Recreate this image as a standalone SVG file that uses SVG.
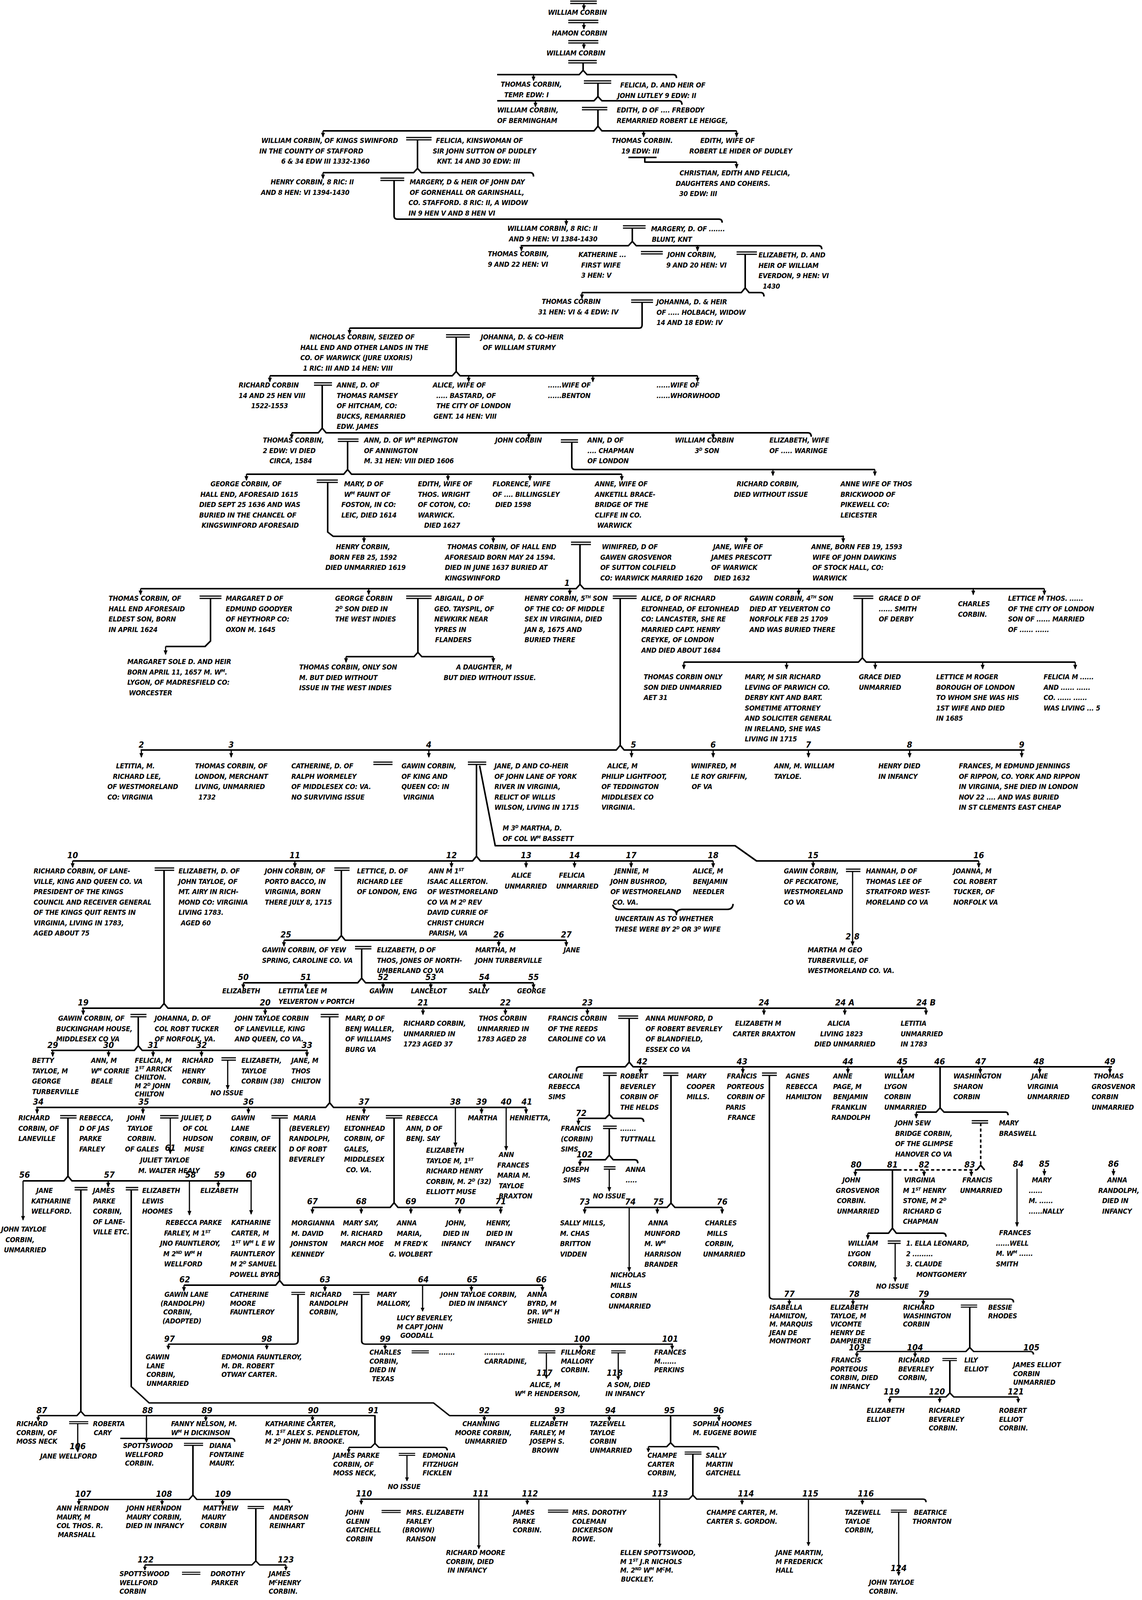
<svg xmlns="http://www.w3.org/2000/svg" width="2924" height="4225" viewBox="0 0 2924 4225">
<defs>
<marker id="ah" viewBox="0 0 12 10" refX="10" refY="5" markerWidth="12" markerHeight="10" markerUnits="userSpaceOnUse" orient="auto"><path d="M0 0 L12 5 L0 10 z" fill="#000"/></marker>
<style>
text{font-family:"Liberation Sans Narrow","DejaVu Sans Condensed","Liberation Sans",sans-serif;font-weight:bold;font-style:italic;font-size:18px;letter-spacing:-0.3px;fill:#000}
.n{font-size:22px;text-anchor:middle;letter-spacing:0}
.s{font-size:11px;baseline-shift:super}
.l{fill:none;stroke:#000;stroke-width:4;stroke-linejoin:round}
.a{fill:none;stroke:#000;stroke-width:3;marker-end:url(#ah)}
.m{fill:none;stroke:#000;stroke-width:3}
.d{stroke-dasharray:8 6}
</style>
</defs>
<rect width="2924" height="4225" fill="#fff"/>
<g id="connectors">
<path class="m" d="M1460 3H1528M1460 9H1528"/><path class="a" d="M1495 9V24"/>
<path class="m" d="M1455 52H1532M1455 58H1532"/><path class="a" d="M1495 58V74"/>
<path class="m" d="M1455 104H1532M1455 110H1532"/><path class="a" d="M1495 110V124"/>
<path class="m" d="M1455 155H1528M1455 161H1528"/>
<path class="l" d="M1493 161V180M1273 191H1483L1493 180L1503 191H1724Q1732 191 1732 200"/>
<path class="a" d="M1366 191V206"/>
<path class="m" d="M1495 207H1565M1495 213H1565"/>
<path class="l" d="M1531 213V247M1273 258H1521L1531 247L1541 258H1738Q1746 258 1746 268"/>
<path class="a" d="M1371 258V273"/>
<path class="m" d="M1490 275H1555M1490 281H1555"/>
<path class="l" d="M1531 281V323M827 335H1521L1531 323L1541 335H1886"/>
<path class="a" d="M827 335V350"/><path class="a" d="M1648 335V350"/><path class="a" d="M1886 335V350"/>
<path class="m" d="M1040 352H1105M1040 358H1105"/>
<path class="l" d="M1069 358V431M827 442H1059L1069 431L1079 442H1358Q1366 442 1366 452"/>
<path class="a" d="M827 442V457"/>
<path class="l" d="M1609 403H1681M1651 403V415H1886"/><path class="a" d="M1886 415V430"/>
<path class="m" d="M974 456H1035M974 462H1035"/>
<path class="l" d="M1009 462V553Q1009 561 1018 561H1841Q1849 561 1849 570"/>
<path class="a" d="M1450 561V576"/>
<path class="m" d="M1595 578H1653M1595 584H1653"/>
<path class="l" d="M1619 584V618M1333 629H1609L1619 618L1629 629H2096Q2104 629 2104 638"/>
<path class="a" d="M1335 629V642"/><path class="a" d="M1786 629V642"/>
<path class="m" d="M1641 644H1697M1641 650H1697"/>
<path class="m" d="M1886 645H1938M1886 651H1938"/>
<path class="l" d="M1908 651V737M1490 749H1898L1908 737L1918 749H1948Q1956 749 1956 759"/>
<path class="a" d="M1490 749V764"/>
<path class="m" d="M1616 768H1672M1616 774H1672"/>
<path class="l" d="M1644 774V832Q1644 840 1636 840H895"/><path class="a" d="M895 840V855"/>
<path class="m" d="M1142 857H1203M1142 863H1203"/>
<path class="l" d="M1168 863V951M691 962H1158L1168 951L1178 962H1786"/>
<path class="a" d="M691 962V977"/><path class="a" d="M1200 962V977"/><path class="a" d="M1518 962V977"/><path class="a" d="M1786 962V977"/>
<path class="m" d="M804 980H850M804 986H850"/>
<path class="l" d="M825 986V1096M747 1108H815L825 1096L835 1108H2069Q2077 1108 2077 1118"/>
<path class="a" d="M747 1108V1122"/><path class="a" d="M1354 1108V1122"/><path class="a" d="M1826 1108V1122"/>
<path class="m" d="M865 1124H918M865 1130H918"/>
<path class="l" d="M890 1130V1202M631 1214H880L890 1202L900 1214H1592"/>
<path class="a" d="M631 1214V1229"/><path class="a" d="M1147 1214V1229"/><path class="a" d="M1357 1214V1229"/><path class="a" d="M1592 1214V1229"/>
<path class="m" d="M1436 1126H1480M1436 1132H1480"/>
<path class="l" d="M1464 1132V1194Q1464 1202 1473 1202H2240"/>
<path class="a" d="M1979 1202V1217"/><path class="a" d="M2240 1202V1217"/>
<path class="m" d="M811 1229H865M811 1235H865"/>
<path class="l" d="M839 1235V1362L853 1373H2161"/>
<path class="a" d="M932 1373V1388"/><path class="a" d="M1263 1373V1388"/><path class="a" d="M1910 1373V1388"/><path class="a" d="M2159 1373V1388"/>
<path class="m" d="M1462 1388H1513M1462 1394H1513"/>
<path class="l" d="M1485 1394V1496M360 1507H1475L1485 1496L1495 1507H2674"/>
<path class="a" d="M360 1507V1522"/><path class="a" d="M944 1507V1522"/><path class="a" d="M1459 1507V1522"/><path class="a" d="M2045 1507V1522"/><path class="a" d="M2492 1507V1522"/><path class="a" d="M2674 1507V1522"/>
<path class="m" d="M511 1526H567M511 1532H567"/>
<path class="l" d="M539 1532V1641L525 1655H424"/><path class="a" d="M424 1655V1675"/>
<path class="m" d="M1040 1526H1105M1040 1532H1105"/>
<path class="l" d="M1070 1532V1670M886 1681H1060L1070 1670L1080 1681H1263"/>
<path class="a" d="M886 1681V1695"/><path class="a" d="M1263 1681V1695"/>
<path class="m" d="M1569 1526H1630M1569 1532H1630"/>
<path class="l" d="M1588 1532V1908M360 1920H1578L1588 1908L1598 1920H2623"/>
<path class="a" d="M362 1920V1938"/><path class="a" d="M592 1920V1938"/><path class="a" d="M1098 1920V1938"/><path class="a" d="M1617 1920V1938"/><path class="a" d="M1826 1920V1938"/><path class="a" d="M2070 1920V1938"/><path class="a" d="M2329 1920V1938"/><path class="a" d="M2616 1920V1938"/>
<path class="m" d="M2185 1526H2236M2185 1532H2236"/>
<path class="l" d="M2208 1532V1684M1751 1695H2198L2208 1684L2218 1695H2753"/>
<path class="a" d="M1751 1695V1712"/><path class="a" d="M2014 1695V1712"/><path class="a" d="M2241 1695V1712"/><path class="a" d="M2516 1695V1712"/><path class="a" d="M2753 1695V1712"/>
<path class="m" d="M956 1951H1005M956 1957H1005"/>
<path class="m" d="M1198 1951H1245M1198 1957H1245"/>
<path class="l" d="M1220 1957V2192M186 2204H1210L1220 2192L1230 2204H1826"/>
<path class="a" d="M186 2204V2220"/><path class="a" d="M755 2204V2220"/><path class="a" d="M1156 2204V2220"/><path class="a" d="M1347 2204V2220"/><path class="a" d="M1471 2204V2220"/><path class="a" d="M1616 2204V2220"/><path class="a" d="M1826 2204V2220"/>
<path class="l" d="M1228 1960L1268 2165H1882L1937 2204H2506"/>
<path class="a" d="M2082 2204V2220"/><path class="a" d="M2506 2204V2220"/>
<path class="m" d="M396 2222H446M396 2228H446"/>
<path class="l" d="M420 2228V2569M210 2581H410L420 2569L430 2581H2371"/>
<path class="a" d="M213 2581V2597"/><path class="a" d="M679 2581V2597"/><path class="a" d="M1083 2581V2597"/><path class="a" d="M1294 2581V2597"/><path class="a" d="M1504 2581V2597"/><path class="a" d="M1956 2581V2597"/><path class="a" d="M2163 2581V2597"/><path class="a" d="M2371 2581V2597"/>
<path class="m" d="M856 2222H895M856 2228H895"/>
<path class="l" d="M874 2228V2395M727 2407H864L874 2395L884 2407H1450"/>
<path class="a" d="M727 2407V2422"/><path class="a" d="M1277 2407V2422"/><path class="a" d="M1450 2407V2422"/>
<path class="m" d="M2166 2225H2203M2166 2231H2203"/><path class="a" d="M2183 2231V2420"/>
<path class="l" d="M1569 2316Q1571 2328 1588 2328H1718Q1732 2329 1732 2341Q1732 2329 1746 2328H1862Q1876 2328 1877 2314"/>
<path class="m" d="M909 2423H951M909 2429H951"/>
<path class="l" d="M926 2429V2504M623 2516H916L926 2504L936 2516H1366"/>
<path class="a" d="M623 2516V2530"/><path class="a" d="M783 2516V2530"/><path class="a" d="M981 2516V2530"/><path class="a" d="M1103 2516V2530"/><path class="a" d="M1240 2516V2530"/><path class="a" d="M1366 2516V2530"/>
<path class="m" d="M334 2597H375M334 2603H375"/>
<path class="l" d="M354 2603V2677M131 2689H344L354 2677L364 2689H788"/>
<path class="a" d="M135 2689V2704"/><path class="a" d="M278 2689V2704"/><path class="a" d="M392 2689V2704"/><path class="a" d="M516 2689V2704"/><path class="a" d="M786 2689V2704"/>
<path class="m" d="M821 2597H867M821 2603H867"/>
<path class="l" d="M844 2603V2823M93 2835H834L844 2823L854 2835H1347"/>
<path class="a" d="M95 2835V2850"/><path class="a" d="M366 2835V2850"/><path class="a" d="M636 2835V2850"/><path class="a" d="M932 2835V2850"/><path class="a" d="M1233 2835V2850"/><path class="a" d="M1347 2835V2850"/><path class="a" d="M1166 2835V2935"/><path class="a" d="M1296 2835V2944"/>
<path class="m" d="M1583 2601H1634M1583 2607H1634"/>
<path class="l" d="M1611 2607V2719M1476 2743V2739Q1476 2731 1484 2731H1601L1611 2719L1621 2731H2847"/>
<path class="a" d="M1640 2731V2747"/><path class="a" d="M1902 2731V2747"/><path class="a" d="M2171 2731V2747"/><path class="a" d="M2309 2731V2747"/><path class="a" d="M2510 2731V2747"/><path class="a" d="M2662 2731V2747"/><path class="a" d="M2842 2731V2747"/>
<path class="l" d="M2407 2731V2836M2346 2847H2397L2407 2836L2417 2847H2575Q2581 2847 2581 2855"/>
<path class="a" d="M2346 2847V2862"/>
<path class="m" d="M567 2708H604M567 2714H604"/><path class="a" d="M583 2714V2788"/>
<path class="m" d="M1544 2747H1579M1544 2753H1579"/>
<path class="l" d="M1560 2753V2853M1481 2863H1550L1560 2853L1570 2863H1640Q1648 2863 1648 2872"/>
<path class="a" d="M1481 2863V2879"/>
<path class="m" d="M1698 2747H1737M1698 2753H1737"/>
<path class="l" d="M1718 2753V3080M1497 3091H1708L1718 3080L1728 3091H1849"/>
<path class="a" d="M1497 3091V3106"/><path class="a" d="M1683 3091V3106"/><path class="a" d="M1849 3091V3106"/><path class="a" d="M1611 3091V3254"/>
<path class="m" d="M1951 2747H1989M1951 2753H1989"/>
<path class="l" d="M1970 2753V3301"/>
<path class="m" d="M1544 2883H1579M1544 2889H1579"/>
<path class="l" d="M1560 2889V2957M1485 2969H1550L1560 2957L1570 2969H1625Q1633 2969 1633 2978"/>
<path class="a" d="M1485 2969V2984"/>
<path class="m" d="M1546 2987H1576M1546 2993H1576"/><path class="a" d="M1560 2993V3049"/>
<path class="m" d="M2488 2869H2530M2488 2875H2530"/>
<path class="l d" d="M2511 2875V2983"/>
<path class="l" d="M2189 2995H2300"/><path class="l d" d="M2300 2995H2501"/><path class="l" d="M2501 2995L2511 2983L2521 2995"/>
<path class="a" d="M2190 2995V3010"/><path class="a" d="M2366 2995V3010"/><path class="a" d="M2487 2995V3010"/>
<path class="l" d="M2285 2995V3144M2222 3157H2275L2285 3144L2295 3157H2414Q2422 3157 2422 3166"/>
<path class="a" d="M2222 3157V3172"/>
<path class="a" d="M2604 2992V3139"/><path class="a" d="M2674 2992V3008"/><path class="a" d="M2851 2992V3008"/>
<path class="m" d="M2273 3177H2306M2273 3183H2306"/><path class="a" d="M2292 3183V3280"/>
<path class="m" d="M154 2856H196M154 2862H196"/>
<path class="l" d="M174 2862V3011M59 3023H164L174 3011L184 3023H645"/>
<path class="a" d="M277 3023V3038"/><path class="a" d="M559 3023V3038"/><path class="a" d="M59 3023V3123"/><path class="a" d="M485 3023V3110"/><path class="a" d="M643 3023V3108"/>
<path class="m" d="M410 2856H457M410 2862H457"/><path class="a" d="M436 2862V2953"/>
<path class="m" d="M695 2856H737M695 2862H737"/>
<path class="l" d="M716 2862V3278M471 3290H706L716 3278L726 3290H1389"/>
<path class="a" d="M471 3290V3305"/><path class="a" d="M832 3290V3305"/><path class="a" d="M1207 3290V3305"/><path class="a" d="M1389 3290V3305"/><path class="m" d="M1082 3290V3301"/>
<path class="m" d="M988 2856H1030M988 2862H1030"/>
<path class="l" d="M1009 2862V3079M800 3091H999L1009 3079L1019 3091H1287"/>
<path class="a" d="M800 3091V3106"/><path class="a" d="M925 3091V3106"/><path class="a" d="M1052 3091V3106"/><path class="a" d="M1177 3091V3106"/><path class="a" d="M1282 3091V3106"/>
<path class="m" d="M191 3040H224M191 3046H224"/><path class="l" d="M207 3046V3301"/>
<path class="m" d="M322 3040H354M322 3046H354"/><path class="l" d="M336 3046V3301"/>
<g id="connectors-lower" transform="matrix(1 0 0 0.855 0 478.5)">
<path class="l" d="M1970 3300V3320Q1970 3330 1980 3330H2587Q2595 3330 2595 3340"/>
<path class="a" d="M2021 3330V3346"/><path class="a" d="M2184 3330V3346"/><path class="a" d="M2364 3330V3346"/>
<path class="a" d="M1082 3300V3366"/>
<path class="m" d="M2460 3348H2502M2460 3354H2502"/>
<path class="l" d="M2483 3354V3475M2194 3487H2473L2483 3475L2493 3487H2638Q2646 3487 2646 3496"/>
<path class="a" d="M2194 3487V3503"/><path class="a" d="M2343 3487V3503"/>
<path class="m" d="M2413 3508H2450M2413 3514H2450"/>
<path class="l" d="M2432 3514V3611M2278 3623H2422L2432 3611L2442 3623H2607"/>
<path class="a" d="M2278 3623V3639"/><path class="a" d="M2406 3623V3639"/><path class="a" d="M2607 3623V3639"/>
<path class="m" d="M746 3310H781M746 3316H781"/>
<path class="l" d="M763 3316V3455Q763 3465 753 3465H431"/>
<path class="a" d="M431 3465V3480"/><path class="a" d="M683 3465V3480"/>
<path class="m" d="M904 3310H946M904 3316H946"/>
<path class="l" d="M926 3316V3455Q926 3465 936 3465H1723"/>
<path class="a" d="M986 3465V3480"/><path class="a" d="M1488 3465V3480"/><path class="a" d="M1721 3465V3480"/>
<path class="m" d="M1054 3485H1098M1054 3491H1098"/>
<path class="m" d="M1378 3485H1422M1378 3491H1422"/><path class="a" d="M1399 3491V3567"/>
<path class="m" d="M1565 3485H1602M1565 3491H1602"/><path class="a" d="M1583 3491V3571"/>
<path class="l" d="M207 3300V3666M98 3679H197L207 3666L217 3679H960V3762M893 3774H950L960 3762L970 3774H1137Q1145 3774 1145 3783"/>
<path class="a" d="M98 3679V3694"/><path class="a" d="M527 3679V3694"/><path class="a" d="M800 3679V3694"/><path class="a" d="M375 3679V3758"/><path class="a" d="M893 3774V3789"/>
<path class="l" d="M336 3300V3592L382 3641H1110L1151 3679H1844"/>
<path class="a" d="M1240 3679V3694"/><path class="a" d="M1419 3679V3694"/><path class="a" d="M1560 3679V3694"/><path class="a" d="M1841 3679V3694"/>
<path class="l" d="M1717 3679V3760M1660 3772H1707L1717 3760L1727 3772H1832Q1840 3772 1840 3781"/>
<path class="a" d="M1660 3772V3787"/>
<path class="m" d="M177 3697H226M177 3703H226"/><path class="a" d="M199 3703V3787"/>
<path class="l" d="M308 3747H593Q601 3747 601 3757"/>
<path class="m" d="M471 3762H520M471 3768H520"/>
<path class="l" d="M494 3768V3917M200 3930H484L494 3917L504 3930H733Q741 3930 741 3940"/>
<path class="a" d="M202 3930V3945"/><path class="a" d="M415 3930V3945"/><path class="a" d="M570 3930V3945"/>
<path class="m" d="M634 3951H676M634 3957H676"/>
<path class="l" d="M655 3957V4114M371 4126H645L655 4114L665 4126H732"/>
<path class="a" d="M371 4126V4141"/><path class="a" d="M732 4126V4141"/>
<path class="m" d="M466 4148H513M466 4154H513"/>
<path class="m" d="M1021 3792H1063M1021 3798H1063"/><path class="a" d="M1042 3798V3874"/>
<path class="m" d="M1753 3788H1796M1753 3794H1796"/>
<path class="l" d="M1774 3794V3917M923 3929H1764L1774 3917L1784 3929H2363Q2371 3929 2371 3938"/>
<path class="a" d="M925 3929V3944"/><path class="a" d="M1350 3929V3944"/><path class="a" d="M1900 3929V3944"/><path class="a" d="M2208 3929V3944"/><path class="a" d="M1226 3929V4077"/><path class="a" d="M1689 3929V4072"/><path class="a" d="M2070 3929V4068"/>
<path class="m" d="M977 3963H1026M977 3969H1026"/>
<path class="m" d="M1403 3962H1455M1403 3968H1455"/>
<path class="m" d="M2281 3962H2322M2281 3968H2322"/><path class="a" d="M2301 3968V4157"/>
</g>
</g>
<g id="numbers">
<text class="n" x="1452" y="1500">1</text>
<text class="n" x="362" y="1914">2</text><text class="n" x="592" y="1914">3</text><text class="n" x="1098" y="1914">4</text><text class="n" x="1622" y="1914">5</text><text class="n" x="1826" y="1914">6</text><text class="n" x="2070" y="1914">7</text><text class="n" x="2329" y="1914">8</text><text class="n" x="2616" y="1914">9</text>
<text class="n" x="186" y="2197">10</text><text class="n" x="755" y="2197">11</text><text class="n" x="1156" y="2197">12</text><text class="n" x="1347" y="2197">13</text><text class="n" x="1471" y="2197">14</text><text class="n" x="1616" y="2197">17</text><text class="n" x="1826" y="2197">18</text><text class="n" x="2082" y="2197">15</text><text class="n" x="2506" y="2197">16</text>
<text class="n" x="2172" y="2405">2</text><text class="n" x="2194" y="2405">8</text>
<text class="n" x="732" y="2400">25</text><text class="n" x="1277" y="2400">26</text><text class="n" x="1450" y="2400">27</text>
<text class="n" x="623" y="2509">50</text><text class="n" x="783" y="2509">51</text><text class="n" x="981" y="2509">52</text><text class="n" x="1103" y="2509">53</text><text class="n" x="1240" y="2509">54</text><text class="n" x="1366" y="2509">55</text>
<text class="n" x="213" y="2574">19</text><text class="n" x="679" y="2574">20</text><text class="n" x="1083" y="2574">21</text><text class="n" x="1294" y="2574">22</text><text class="n" x="1504" y="2574">23</text><text class="n" x="1956" y="2574">24</text><text class="n" x="2163" y="2574">24 A</text><text class="n" x="2371" y="2574">24 B</text>
<text class="n" x="135" y="2683">29</text><text class="n" x="278" y="2683">30</text><text class="n" x="392" y="2683">31</text><text class="n" x="516" y="2683">32</text><text class="n" x="786" y="2683">33</text>
<text class="n" x="1644" y="2725">42</text><text class="n" x="1900" y="2725">43</text><text class="n" x="2171" y="2725">44</text><text class="n" x="2310" y="2725">45</text><text class="n" x="2406" y="2725">46</text><text class="n" x="2511" y="2725">47</text><text class="n" x="2660" y="2725">48</text><text class="n" x="2842" y="2725">49</text>
<text class="n" x="98" y="2828">34</text><text class="n" x="368" y="2828">35</text><text class="n" x="636" y="2828">36</text><text class="n" x="932" y="2828">37</text><text class="n" x="1166" y="2828">38</text><text class="n" x="1233" y="2828">39</text><text class="n" x="1296" y="2828">40</text><text class="n" x="1349" y="2828">41</text>
<text class="n" x="436" y="2946">61</text>
<text class="n" x="63" y="3015">56</text><text class="n" x="280" y="3015">57</text><text class="n" x="488" y="3015">58</text><text class="n" x="562" y="3015">59</text><text class="n" x="643" y="3015">60</text>
<text class="n" x="1488" y="2857">72</text><text class="n" x="1497" y="2963">102</text>
<text class="n" x="1497" y="3084">73</text><text class="n" x="1614" y="3084">74</text><text class="n" x="1686" y="3084">75</text><text class="n" x="1849" y="3084">76</text>
<text class="n" x="800" y="3083">67</text><text class="n" x="925" y="3083">68</text><text class="n" x="1052" y="3083">69</text><text class="n" x="1177" y="3083">70</text><text class="n" x="1282" y="3083">71</text>
<text class="n" x="2192" y="2989">80</text><text class="n" x="2285" y="2989">81</text><text class="n" x="2366" y="2989">82</text><text class="n" x="2483" y="2989">83</text><text class="n" x="2607" y="2987">84</text><text class="n" x="2674" y="2987">85</text><text class="n" x="2851" y="2987">86</text>
<text class="n" x="473" y="3283">62</text><text class="n" x="832" y="3283">63</text><text class="n" x="1084" y="3283">64</text><text class="n" x="1209" y="3283">65</text><text class="n" x="1386" y="3283">66</text>
<text class="n" x="2021" y="3320">77</text><text class="n" x="2187" y="3320">78</text><text class="n" x="2365" y="3320">79</text>
<text class="n" x="434" y="3435">97</text><text class="n" x="683" y="3435">98</text><text class="n" x="986" y="3435">99</text><text class="n" x="1490" y="3435">100</text><text class="n" x="1716" y="3435">101</text>
<text class="n" x="2194" y="3457">103</text><text class="n" x="2343" y="3457">104</text><text class="n" x="2641" y="3457">105</text>
<text class="n" x="1394" y="3522">117</text><text class="n" x="1574" y="3522">118</text>
<text class="n" x="2283" y="3570">119</text><text class="n" x="2399" y="3570">120</text><text class="n" x="2601" y="3570">121</text>
<text class="n" x="107" y="3618">87</text><text class="n" x="378" y="3618">88</text><text class="n" x="530" y="3618">89</text><text class="n" x="802" y="3618">90</text><text class="n" x="956" y="3618">91</text><text class="n" x="1240" y="3618">92</text><text class="n" x="1433" y="3618">93</text><text class="n" x="1563" y="3618">94</text><text class="n" x="1714" y="3618">95</text><text class="n" x="1840" y="3618">96</text>
<text class="n" x="199" y="3710">106</text>
<text class="n" x="213" y="3832">107</text><text class="n" x="420" y="3832">108</text><text class="n" x="571" y="3832">109</text>
<text class="n" x="932" y="3831">110</text><text class="n" x="1231" y="3831">111</text><text class="n" x="1357" y="3831">112</text><text class="n" x="1690" y="3831">113</text><text class="n" x="1910" y="3831">114</text><text class="n" x="2075" y="3831">115</text><text class="n" x="2217" y="3831">116</text>
<text class="n" x="373" y="4000">122</text><text class="n" x="732" y="4000">123</text>
<text class="n" x="2301" y="4022">124</text>
</g>
<g id="n-top">
<text x="1403" y="38">WILLIAM CORBIN</text>
<text x="1413" y="91">HAMON CORBIN</text>
<text x="1399" y="142">WILLIAM CORBIN</text>
</g>
<g id="n-thomas-edw1"><text x="1282" y="222">THOMAS CORBIN,<tspan x="1291" dy="26.5">TEMP. EDW: I</tspan></text></g>
<g id="n-felicia-lutley"><text x="1588" y="224">FELICIA, D. AND HEIR OF<tspan x="1581" dy="26.5">JOHN LUTLEY  9 EDW: II</tspan></text></g>
<g id="n-william-bermingham"><text x="1273" y="288">WILLIAM CORBIN,<tspan x="1273" dy="26.5">OF BERMINGHAM</tspan></text></g>
<g id="n-edith-frebody"><text x="1579" y="288">EDITH, D OF .... FREBODY<tspan x="1579" dy="26.5">REMARRIED ROBERT LE HEIGGE,</tspan></text></g>
<g id="n-william-swinford"><text x="669" y="366">WILLIAM CORBIN, OF KINGS SWINFORD<tspan x="664" dy="26.5">IN THE COUNTY OF STAFFORD</tspan><tspan x="720" dy="26.5">6 &amp; 34 EDW III  1332-1360</tspan></text></g>
<g id="n-felicia-sutton"><text x="1116" y="366">FELICIA, KINSWOMAN OF<tspan x="1108" dy="26.5">SIR JOHN SUTTON OF DUDLEY</tspan><tspan x="1119" dy="26.5">KNT.  14 AND 30 EDW: III</tspan></text></g>
<g id="n-thomas-19edw"><text x="1566" y="366">THOMAS CORBIN.<tspan x="1591" dy="26.5">19 EDW: III</tspan></text></g>
<g id="n-edith-hider"><text x="1793" y="366">EDITH, WIFE OF<tspan x="1765" dy="26.5">ROBERT LE HIDER OF DUDLEY</tspan></text></g>
<g id="n-christian"><text x="1740" y="449">CHRISTIAN, EDITH AND FELICIA,<tspan x="1730" dy="26.5">DAUGHTERS AND COHEIRS.</tspan><tspan x="1739" dy="26.5">30 EDW: III</tspan></text></g>
<g id="n-henry-8ric"><text x="693" y="472">HENRY CORBIN, 8 RIC: II<tspan x="668" dy="26.5">AND 8 HEN: VI  1394-1430</tspan></text></g>
<g id="n-margery-day"><text x="1049" y="472">MARGERY, D &amp; HEIR OF JOHN DAY<tspan x="1049" dy="26.5">OF GORNEHALL OR GARINSHALL,</tspan><tspan x="1046" dy="26.5">CO. STAFFORD. 8 RIC: II, A WIDOW</tspan><tspan x="1046" dy="26.5">IN 9 HEN V AND 8 HEN VI</tspan></text></g>
<g id="n-william-8ric"><text x="1299" y="591">WILLIAM CORBIN, 8 RIC: II<tspan x="1303" dy="26.5">AND 9 HEN: VI  1384-1430</tspan></text></g>
<g id="n-margery-blunt"><text x="1667" y="592">MARGERY, D. OF .......<tspan x="1669" dy="26.5">BLUNT,  KNT</tspan></text></g>
<g id="n-thomas-9hen"><text x="1249" y="656">THOMAS CORBIN,<tspan x="1249" dy="26.5">9 AND 22 HEN: VI</tspan></text></g>
<g id="n-katherine"><text x="1481" y="658">KATHERINE ...<tspan x="1488" dy="26.5">FIRST WIFE</tspan><tspan x="1488" dy="26.5">3 HEN: V</tspan></text></g>
<g id="n-john-9hen"><text x="1709" y="658">JOHN CORBIN,<tspan x="1706" dy="26.5">9 AND 20 HEN: VI</tspan></text></g>
<g id="n-elizabeth-everdon"><text x="1942" y="659">ELIZABETH, D. AND<tspan x="1942" dy="26.5">HEIR OF  WILLIAM</tspan><tspan x="1942" dy="26.5">EVERDON, 9 HEN: VI</tspan><tspan x="1953" dy="26.5">1430</tspan></text></g>
<g id="n-thomas-31hen"><text x="1387" y="778">THOMAS CORBIN<tspan x="1378" dy="26.5">31 HEN: VI &amp; 4 EDW: IV</tspan></text></g>
<g id="n-johanna-holbach"><text x="1681" y="779">JOHANNA, D. &amp; HEIR<tspan x="1681" dy="26.5">OF ..... HOLBACH, WIDOW</tspan><tspan x="1681" dy="26.5">14 AND 18 EDW: IV</tspan></text></g>
<g id="n-nicholas"><text x="793" y="869">NICHOLAS CORBIN, SEIZED OF<tspan x="769" dy="26.5">HALL END AND OTHER LANDS IN THE</tspan><tspan x="769" dy="26.5">CO. OF WARWICK (JURE UXORIS)</tspan><tspan x="776" dy="26.5">1 RIC: III  AND 14 HEN: VIII</tspan></text></g>
<g id="n-johanna-sturmy"><text x="1231" y="869">JOHANNA, D. &amp; CO-HEIR<tspan x="1236" dy="26.5">OF WILLIAM STURMY</tspan></text></g>
<g id="n-richard-14hen"><text x="611" y="992">RICHARD CORBIN<tspan x="611" dy="26.5">14 AND 25 HEN VIII</tspan><tspan x="643" dy="26.5">1522-1553</tspan></text></g>
<g id="n-anne-ramsey"><text x="862" y="992">ANNE, D. OF<tspan x="862" dy="26.5">THOMAS RAMSEY</tspan><tspan x="862" dy="26.5">OF HITCHAM, CO:</tspan><tspan x="862" dy="26.5">BUCKS, REMARRIED</tspan><tspan x="862" dy="26.5">EDW. JAMES</tspan></text></g>
<g id="n-alice-bastard"><text x="1108" y="992">ALICE, WIFE OF<tspan x="1117" dy="26.5">..... BASTARD, OF</tspan><tspan x="1117" dy="26.5">THE CITY OF LONDON</tspan><tspan x="1110" dy="26.5">GENT. 14 HEN: VIII</tspan></text></g>
<g id="n-benton"><text x="1403" y="992">......WIFE OF<tspan x="1403" dy="26.5">......BENTON</tspan></text></g>
<g id="n-whorwhood"><text x="1681" y="992">......WIFE OF<tspan x="1681" dy="26.5">......WHORWHOOD</tspan></text></g>
<g id="n-thomas-2edw"><text x="673" y="1133">THOMAS CORBIN,<tspan x="673" dy="26.5">2 EDW: VI  DIED</tspan><tspan x="690" dy="26.5">CIRCA, 1584</tspan></text></g>
<g id="n-ann-repington"><text x="932" y="1133">ANN, D. OF W<tspan class="s">M</tspan> REPINGTON<tspan x="932" dy="26.5">OF ANNINGTON</tspan><tspan x="932" dy="26.5">M. 31 HEN: VIII  DIED 1606</tspan></text></g>
<g id="n-john-corbin"><text x="1268" y="1133">JOHN CORBIN</text></g>
<g id="n-ann-chapman"><text x="1504" y="1133">ANN, D OF<tspan x="1504" dy="26.5">.... CHAPMAN</tspan><tspan x="1504" dy="26.5">OF LONDON</tspan></text></g>
<g id="n-william-3son"><text x="1728" y="1133">WILLIAM CORBIN<tspan x="1779" dy="26.5">3<tspan class="s">D</tspan> SON</tspan></text></g>
<g id="n-elizabeth-waringe"><text x="1970" y="1133">ELIZABETH, WIFE<tspan x="1970" dy="26.5">OF ..... WARINGE</tspan></text></g>
<g id="n-george-hallend"><text x="539" y="1245">GEORGE CORBIN, OF<tspan x="513" dy="26.5">HALL END, AFORESAID 1615</tspan><tspan x="510" dy="26.5">DIED SEPT 25 1636 AND WAS</tspan><tspan x="510" dy="26.5">BURIED IN THE CHANCEL OF</tspan><tspan x="516" dy="26.5">KINGSWINFORD AFORESAID</tspan></text></g>
<g id="n-mary-faunt"><text x="881" y="1245">MARY, D OF<tspan x="881" dy="26.5">W<tspan class="s">M</tspan> FAUNT OF</tspan><tspan x="874" dy="26.5">FOSTON, IN CO:</tspan><tspan x="874" dy="26.5">LEIC, DIED 1614</tspan></text></g>
<g id="n-edith-wright"><text x="1070" y="1245">EDITH, WIFE OF<tspan x="1070" dy="26.5">THOS. WRIGHT</tspan><tspan x="1070" dy="26.5">OF COTON, CO:</tspan><tspan x="1070" dy="26.5">WARWICK.</tspan><tspan x="1086" dy="26.5">DIED 1627</tspan></text></g>
<g id="n-florence"><text x="1261" y="1245">FLORENCE, WIFE<tspan x="1261" dy="26.5">OF .... BILLINGSLEY</tspan><tspan x="1268" dy="26.5">DIED 1598</tspan></text></g>
<g id="n-anne-bracebridge"><text x="1523" y="1245">ANNE, WIFE OF<tspan x="1523" dy="26.5">ANKETILL BRACE-</tspan><tspan x="1523" dy="26.5">BRIDGE OF THE</tspan><tspan x="1523" dy="26.5">CLIFFE IN CO.</tspan><tspan x="1529" dy="26.5">WARWICK</tspan></text></g>
<g id="n-richard-died"><text x="1886" y="1245">RICHARD CORBIN,<tspan x="1879" dy="26.5">DIED WITHOUT ISSUE</tspan></text></g>
<g id="n-anne-brickwood"><text x="2152" y="1245">ANNE  WIFE OF THOS<tspan x="2152" dy="26.5">BRICKWOOD OF</tspan><tspan x="2152" dy="26.5">PIKEWELL  CO:</tspan><tspan x="2152" dy="26.5">LEICESTER</tspan></text></g>
<g id="n-henry-1592"><text x="860" y="1406">HENRY CORBIN,<tspan x="844" dy="26.5">BORN FEB 25, 1592</tspan><tspan x="833" dy="26.5">DIED UNMARRIED 1619</tspan></text></g>
<g id="n-thomas-1594"><text x="1145" y="1406">THOMAS CORBIN, OF HALL END<tspan x="1139" dy="26.5">AFORESAID BORN MAY 24 1594.</tspan><tspan x="1139" dy="26.5">DIED IN JUNE 1637 BURIED AT</tspan><tspan x="1139" dy="26.5">KINGSWINFORD</tspan></text></g>
<g id="n-winifred"><text x="1541" y="1406">WINIFRED,  D OF<tspan x="1537" dy="26.5">GAWEN GROSVENOR</tspan><tspan x="1537" dy="26.5">OF SUTTON COLFIELD</tspan><tspan x="1537" dy="26.5">CO: WARWICK MARRIED 1620</tspan></text></g>
<g id="n-jane-prescott"><text x="1826" y="1406">JANE, WIFE OF<tspan x="1821" dy="26.5">JAMES PRESCOTT</tspan><tspan x="1821" dy="26.5">OF WARWICK</tspan><tspan x="1828" dy="26.5">DIED 1632</tspan></text></g>
<g id="n-anne-dawkins"><text x="2077" y="1406">ANNE, BORN FEB 19, 1593<tspan x="2080" dy="26.5">WIFE OF JOHN DAWKINS</tspan><tspan x="2080" dy="26.5">OF STOCK HALL, CO:</tspan><tspan x="2080" dy="26.5">WARWICK</tspan></text></g>
<g id="n-thomas-1624"><text x="278" y="1538">THOMAS CORBIN, OF<tspan x="278" dy="26.5">HALL END AFORESAID</tspan><tspan x="278" dy="26.5">ELDEST SON, BORN</tspan><tspan x="278" dy="26.5">IN APRIL  1624</tspan></text></g>
<g id="n-margaret-goodyer"><text x="578" y="1538">MARGARET  D OF<tspan x="578" dy="26.5">EDMUND GOODYER</tspan><tspan x="578" dy="26.5">OF HEYTHORP CO:</tspan><tspan x="578" dy="26.5">OXON  M. 1645</tspan></text></g>
<g id="n-margaret-sole"><text x="326" y="1700">MARGARET SOLE D. AND HEIR<tspan x="326" dy="26.5">BORN APRIL 11, 1657  M. W<tspan class="s">M</tspan>.</tspan><tspan x="326" dy="26.5">LYGON, OF MADRESFIELD CO:</tspan><tspan x="330" dy="26.5">WORCESTER</tspan></text></g>
<g id="n-george-2son"><text x="858" y="1538">GEORGE CORBIN<tspan x="858" dy="26.5">2<tspan class="s">D</tspan> SON DIED IN</tspan><tspan x="858" dy="26.5">THE WEST INDIES</tspan></text></g>
<g id="n-abigail"><text x="1114" y="1538">ABIGAIL, D OF<tspan x="1112" dy="26.5">GEO. TAYSPIL, OF</tspan><tspan x="1112" dy="26.5">NEWKIRK NEAR</tspan><tspan x="1112" dy="26.5">YPRES IN</tspan><tspan x="1114" dy="26.5">FLANDERS</tspan></text></g>
<g id="n-thomas-onlyson"><text x="766" y="1714">THOMAS CORBIN, ONLY SON<tspan x="766" dy="26.5">M. BUT DIED WITHOUT</tspan><tspan x="766" dy="26.5">ISSUE IN THE WEST INDIES</tspan></text></g>
<g id="n-daughter"><text x="1168" y="1714">A DAUGHTER, M<tspan x="1136" dy="26.5">BUT DIED WITHOUT ISSUE.</tspan></text></g>
<g id="n-henry-5son"><text x="1343" y="1538">HENRY CORBIN, 5<tspan class="s">TH</tspan> SON<tspan x="1343" dy="26.5">OF THE CO: OF MIDDLE</tspan><tspan x="1343" dy="26.5">SEX IN VIRGINIA, DIED</tspan><tspan x="1343" dy="26.5">JAN 8, 1675  AND</tspan><tspan x="1343" dy="26.5">BURIED THERE</tspan></text></g>
<g id="n-alice-eltonhead"><text x="1642" y="1538">ALICE, D OF RICHARD<tspan x="1642" dy="26.5">ELTONHEAD, OF ELTONHEAD</tspan><tspan x="1642" dy="26.5">CO: LANCASTER, SHE RE</tspan><tspan x="1642" dy="26.5">MARRIED CAPT. HENRY</tspan><tspan x="1642" dy="26.5">CREYKE, OF LONDON</tspan><tspan x="1642" dy="26.5">AND DIED ABOUT 1684</tspan></text></g>
<g id="n-gawin-4son"><text x="1919" y="1538">GAWIN CORBIN, 4<tspan class="s">TH</tspan> SON<tspan x="1919" dy="26.5">DIED AT YELVERTON CO</tspan><tspan x="1919" dy="26.5">NORFOLK FEB 25 1709</tspan><tspan x="1919" dy="26.5">AND WAS BURIED THERE</tspan></text></g>
<g id="n-grace-smith"><text x="2250" y="1538">GRACE  D OF<tspan x="2250" dy="26.5">...... SMITH</tspan><tspan x="2250" dy="26.5">OF DERBY</tspan></text></g>
<g id="n-charles"><text x="2453" y="1552">CHARLES<tspan x="2453" dy="26.5">CORBIN.</tspan></text></g>
<g id="n-lettice-thos"><text x="2581" y="1538">LETTICE M THOS. ......<tspan x="2581" dy="26.5">OF THE CITY OF LONDON</tspan><tspan x="2581" dy="26.5">SON OF ...... MARRIED</tspan><tspan x="2581" dy="26.5">OF ...... ......</tspan></text></g>
<g id="n-thomas-aet31"><text x="1648" y="1739">THOMAS CORBIN ONLY<tspan x="1648" dy="26.5">SON DIED UNMARRIED</tspan><tspan x="1648" dy="26.5">AET 31</tspan></text></g>
<g id="n-mary-leving"><text x="1907" y="1739">MARY, M SIR RICHARD<tspan x="1907" dy="26.5">LEVING OF PARWICH CO.</tspan><tspan x="1907" dy="26.5">DERBY  KNT AND BART.</tspan><tspan x="1907" dy="26.5">SOMETIME ATTORNEY</tspan><tspan x="1907" dy="26.5">AND SOLICITER GENERAL</tspan><tspan x="1907" dy="26.5">IN IRELAND, SHE WAS</tspan><tspan x="1907" dy="26.5">LIVING IN  1715</tspan></text></g>
<g id="n-grace-died"><text x="2199" y="1739">GRACE  DIED<tspan x="2199" dy="26.5">UNMARRIED</tspan></text></g>
<g id="n-lettice-borough"><text x="2397" y="1739">LETTICE  M  ROGER<tspan x="2397" dy="26.5">BOROUGH  OF  LONDON</tspan><tspan x="2397" dy="26.5">TO WHOM SHE WAS HIS</tspan><tspan x="2397" dy="26.5">1ST WIFE  AND DIED</tspan><tspan x="2397" dy="26.5">IN 1685</tspan></text></g>
<g id="n-felicia-m"><text x="2672" y="1739">FELICIA M ......<tspan x="2672" dy="26.5">AND ...... ......</tspan><tspan x="2672" dy="26.5">CO. ...... ......</tspan><tspan x="2672" dy="26.5">WAS LIVING ... 5</tspan></text></g>
<g id="n-letitia-2"><text x="297" y="1967">LETITIA, M.<tspan x="289" dy="26.5">RICHARD LEE,</tspan><tspan x="275" dy="26.5">OF WESTMORELAND</tspan><tspan x="275" dy="26.5">CO: VIRGINIA</tspan></text></g>
<g id="n-thomas-3"><text x="499" y="1967">THOMAS CORBIN, OF<tspan x="499" dy="26.5">LONDON, MERCHANT</tspan><tspan x="499" dy="26.5">LIVING, UNMARRIED</tspan><tspan x="508" dy="26.5">1732</tspan></text></g>
<g id="n-catherine-wormeley"><text x="746" y="1967">CATHERINE, D. OF<tspan x="746" dy="26.5">RALPH WORMELEY</tspan><tspan x="746" dy="26.5">OF MIDDLESEX CO: VA.</tspan><tspan x="746" dy="26.5">NO SURVIVING ISSUE</tspan></text></g>
<g id="n-gawin-4"><text x="1028" y="1967">GAWIN CORBIN,<tspan x="1028" dy="26.5">OF KING AND</tspan><tspan x="1028" dy="26.5">QUEEN CO: IN</tspan><tspan x="1032" dy="26.5">VIRGINIA</tspan></text></g>
<g id="n-jane-lane"><text x="1266" y="1967">JANE, D AND CO-HEIR<tspan x="1266" dy="26.5">OF JOHN LANE OF YORK</tspan><tspan x="1266" dy="26.5">RIVER IN VIRGINIA,</tspan><tspan x="1266" dy="26.5">RELICT OF WILLIS</tspan><tspan x="1266" dy="26.5">WILSON, LIVING IN 1715</tspan></text></g>
<g id="n-martha-bassett"><text x="1287" y="2126">M 3<tspan class="s">D</tspan> MARTHA, D.<tspan x="1287" dy="26.5">OF COL W<tspan class="s">M</tspan> BASSETT</tspan></text></g>
<g id="n-alice-5"><text x="1555" y="1967">ALICE, M<tspan x="1540" dy="26.5">PHILIP LIGHTFOOT,</tspan><tspan x="1540" dy="26.5">OF TEDDINGTON</tspan><tspan x="1540" dy="26.5">MIDDLESEX CO</tspan><tspan x="1540" dy="26.5">VIRGINIA.</tspan></text></g>
<g id="n-winifred-6"><text x="1769" y="1967">WINIFRED, M<tspan x="1769" dy="26.5">LE ROY GRIFFIN,</tspan><tspan x="1771" dy="26.5">OF VA</tspan></text></g>
<g id="n-ann-7"><text x="1982" y="1967">ANN,  M. WILLIAM<tspan x="1982" dy="26.5">TAYLOE.</tspan></text></g>
<g id="n-henry-8"><text x="2249" y="1967">HENRY  DIED<tspan x="2249" dy="26.5">IN INFANCY</tspan></text></g>
<g id="n-frances-9"><text x="2455" y="1967">FRANCES, M  EDMUND JENNINGS<tspan x="2455" dy="26.5">OF RIPPON, CO. YORK AND RIPPON</tspan><tspan x="2455" dy="26.5">IN VIRGINIA, SHE DIED IN LONDON</tspan><tspan x="2455" dy="26.5">NOV 22 .... AND WAS BURIED</tspan><tspan x="2455" dy="26.5">IN ST CLEMENTS EAST CHEAP</tspan></text></g>
<g id="n-richard-10"><text x="86" y="2236">RICHARD CORBIN, OF LANE-<tspan x="86" dy="26.5">VILLE, KING AND QUEEN CO. VA</tspan><tspan x="86" dy="26.5">PRESIDENT OF THE  KINGS</tspan><tspan x="86" dy="26.5">COUNCIL  AND RECEIVER GENERAL</tspan><tspan x="86" dy="26.5">OF THE  KINGS QUIT RENTS IN</tspan><tspan x="86" dy="26.5">VIRGINIA, LIVING IN 1783,</tspan><tspan x="86" dy="26.5">AGED ABOUT 75</tspan></text></g>
<g id="n-elizabeth-tayloe"><text x="457" y="2236">ELIZABETH, D. OF<tspan x="457" dy="26.5">JOHN TAYLOE, OF</tspan><tspan x="457" dy="26.5">MT. AIRY IN RICH-</tspan><tspan x="457" dy="26.5">MOND CO: VIRGINIA</tspan><tspan x="457" dy="26.5">LIVING  1783.</tspan><tspan x="463" dy="26.5">AGED 60</tspan></text></g>
<g id="n-john-11"><text x="678" y="2236">JOHN CORBIN, OF<tspan x="678" dy="26.5">PORTO BACCO, IN</tspan><tspan x="678" dy="26.5">VIRGINIA, BORN</tspan><tspan x="678" dy="26.5">THERE JULY 8, 1715</tspan></text></g>
<g id="n-lettice-lee"><text x="914" y="2236">LETTICE, D. OF<tspan x="914" dy="26.5">RICHARD LEE</tspan><tspan x="914" dy="26.5">OF LONDON, ENG</tspan></text></g>
<g id="n-ann-12"><text x="1098" y="2236">ANN  M 1<tspan class="s">ST</tspan><tspan x="1094" dy="26.5">ISAAC ALLERTON.</tspan><tspan x="1094" dy="26.5">OF WESTMORELAND</tspan><tspan x="1094" dy="26.5">CO VA  M 2<tspan class="s">D</tspan> REV</tspan><tspan x="1094" dy="26.5">DAVID CURRIE OF</tspan><tspan x="1094" dy="26.5">CHRIST CHURCH</tspan><tspan x="1098" dy="26.5">PARISH, VA</tspan></text></g>
<g id="n-alice-13"><text x="1310" y="2247">ALICE<tspan x="1292" dy="27.5">UNMARRIED</tspan></text></g>
<g id="n-felicia-14"><text x="1431" y="2247">FELICIA<tspan x="1424" dy="27.5">UNMARRIED</tspan></text></g>
<g id="n-jennie-17"><text x="1574" y="2236">JENNIE, M<tspan x="1563" dy="26.5">JOHN BUSHROD,</tspan><tspan x="1563" dy="26.5">OF WESTMORELAND</tspan><tspan x="1569" dy="26.5">CO. VA.</tspan></text></g>
<g id="n-alice-18"><text x="1774" y="2236">ALICE, M<tspan x="1774" dy="26.5">BENJAMIN</tspan><tspan x="1774" dy="26.5">NEEDLER</tspan></text></g>
<g id="n-uncertain"><text x="1574" y="2358">UNCERTAIN AS TO WHETHER<tspan x="1574" dy="26.5">THESE WERE BY 2<tspan class="s">D</tspan> OR 3<tspan class="s">D</tspan> WIFE</tspan></text></g>
<g id="n-gawin-15"><text x="2007" y="2236">GAWIN CORBIN,<tspan x="2007" dy="26.5">OF PECKATONE,</tspan><tspan x="2007" dy="26.5">WESTMORELAND</tspan><tspan x="2007" dy="26.5">CO  VA</tspan></text></g>
<g id="n-hannah"><text x="2217" y="2236">HANNAH, D OF<tspan x="2217" dy="26.5">THOMAS LEE OF</tspan><tspan x="2217" dy="26.5">STRATFORD WEST-</tspan><tspan x="2217" dy="26.5">MORELAND CO VA</tspan></text></g>
<g id="n-joanna-16"><text x="2441" y="2236">JOANNA, M<tspan x="2441" dy="26.5">COL  ROBERT</tspan><tspan x="2441" dy="26.5">TUCKER, OF</tspan><tspan x="2441" dy="26.5">NORFOLK VA</tspan></text></g>
<g id="n-martha-28"><text x="2068" y="2438">MARTHA  M GEO<tspan x="2068" dy="26.5">TURBERVILLE, OF</tspan><tspan x="2068" dy="26.5">WESTMORELAND CO. VA.</tspan></text></g>
<g id="n-gawin-25"><text x="671" y="2438">GAWIN CORBIN, OF YEW<tspan x="671" dy="26.5">SPRING, CAROLINE CO. VA</tspan></text></g>
<g id="n-elizabeth-jones"><text x="965" y="2438">ELIZABETH, D OF<tspan x="965" dy="26.5">THOS, JONES OF NORTH-</tspan><tspan x="965" dy="26.5">UMBERLAND CO VA</tspan></text></g>
<g id="n-martha-26"><text x="1217" y="2438">MARTHA, M<tspan x="1217" dy="26.5">JOHN TURBERVILLE</tspan></text></g>
<g id="n-jane-27"><text x="1443" y="2438">JANE</text></g>
<g id="n-row50">
<text x="569" y="2543">ELIZABETH</text>
<text x="713" y="2543">LETITIA LEE  M<tspan x="713" dy="26.5">YELVERTON v PORTCH</tspan></text>
<text x="946" y="2543">GAWIN</text>
<text x="1052" y="2543">LANCELOT</text>
<text x="1200" y="2543">SALLY</text>
<text x="1324" y="2543">GEORGE</text>
</g>
<g id="n-gawin-19"><text x="149" y="2613">GAWIN CORBIN, OF<tspan x="144" dy="26.5">BUCKINGHAM HOUSE,</tspan><tspan x="144" dy="26.5">MIDDLESEX CO  VA</tspan></text></g>
<g id="n-johanna-tucker"><text x="396" y="2613">JOHANNA, D. OF<tspan x="396" dy="26.5">COL ROBT TUCKER</tspan><tspan x="396" dy="26.5">OF NORFOLK, VA.</tspan></text></g>
<g id="n-john-20"><text x="601" y="2613">JOHN TAYLOE CORBIN<tspan x="601" dy="26.5">OF LANEVILLE, KING</tspan><tspan x="601" dy="26.5">AND QUEEN, CO VA.</tspan></text></g>
<g id="n-mary-waller"><text x="884" y="2613">MARY, D OF<tspan x="884" dy="26.5">BENJ WALLER,</tspan><tspan x="884" dy="26.5">OF WILLIAMS</tspan><tspan x="884" dy="26.5">BURG  VA</tspan></text></g>
<g id="n-richard-21"><text x="1033" y="2626">RICHARD CORBIN,<tspan x="1033" dy="26.5">UNMARRIED IN</tspan><tspan x="1033" dy="26.5">1723 AGED 37</tspan></text></g>
<g id="n-thos-22"><text x="1226" y="2613">THOS CORBIN<tspan x="1222" dy="26.5">UNMARRIED IN</tspan><tspan x="1222" dy="26.5">1783 AGED 28</tspan></text></g>
<g id="n-francis-23"><text x="1403" y="2613">FRANCIS CORBIN<tspan x="1403" dy="26.5">OF THE REEDS</tspan><tspan x="1403" dy="26.5">CAROLINE CO VA</tspan></text></g>
<g id="n-anna-munford"><text x="1653" y="2613">ANNA MUNFORD, D<tspan x="1653" dy="26.5">OF ROBERT BEVERLEY</tspan><tspan x="1653" dy="26.5">OF BLANDFIELD,</tspan><tspan x="1653" dy="26.5">ESSEX CO  VA</tspan></text></g>
<g id="n-elizabeth-24"><text x="1882" y="2626">ELIZABETH M<tspan x="1876" dy="26.5">CARTER BRAXTON</tspan></text></g>
<g id="n-alicia-24a"><text x="2119" y="2626">ALICIA<tspan x="2100" dy="26.5">LIVING 1823</tspan><tspan x="2085" dy="26.5">DIED UNMARRIED</tspan></text></g>
<g id="n-letitia-24b"><text x="2306" y="2626">LETITIA<tspan x="2306" dy="26.5">UNMARRIED</tspan><tspan x="2306" dy="26.5">IN 1783</tspan></text></g>
<g id="n-row29">
<text x="82" y="2721">BETTY<tspan x="82" dy="26.5">TAYLOE, M</tspan><tspan x="82" dy="26.5">GEORGE</tspan><tspan x="82" dy="26.5">TURBERVILLE</tspan></text>
<text x="233" y="2721">ANN, M<tspan x="233" dy="26.5">W<tspan class="s">M</tspan> CORRIE</tspan><tspan x="233" dy="26.5">BEALE</tspan></text>
<text x="345" y="2721">FELICIA, M<tspan x="345" dy="21.5">1<tspan class="s">ST</tspan> ARRICK</tspan><tspan x="345" dy="21.5">CHILTON.</tspan><tspan x="345" dy="21.5">M 2<tspan class="s">D</tspan> JOHN</tspan><tspan x="345" dy="21.5">CHILTON</tspan></text>
<text x="466" y="2721">RICHARD<tspan x="466" dy="26.5">HENRY</tspan><tspan x="466" dy="26.5">CORBIN,</tspan></text>
<text x="539" y="2804">NO ISSUE</text>
<text x="618" y="2721">ELIZABETH,<tspan x="618" dy="26.5">TAYLOE</tspan><tspan x="618" dy="26.5">CORBIN (38)</tspan></text>
<text x="746" y="2721">JANE, M<tspan x="746" dy="26.5">THOS</tspan><tspan x="746" dy="26.5">CHILTON</tspan></text>
</g>
<g id="n-row42">
<text x="1404" y="2761">CAROLINE<tspan x="1404" dy="26.5">REBECCA</tspan><tspan x="1404" dy="26.5">SIMS</tspan></text>
<text x="1588" y="2761">ROBERT<tspan x="1588" dy="26.5">BEVERLEY</tspan><tspan x="1588" dy="26.5">CORBIN OF</tspan><tspan x="1588" dy="26.5">THE HELDS</tspan></text>
<text x="1758" y="2761">MARY<tspan x="1758" dy="26.5">COOPER</tspan><tspan x="1758" dy="26.5">MILLS.</tspan></text>
<text x="1861" y="2761">FRANCIS<tspan x="1861" dy="26.5">PORTEOUS</tspan><tspan x="1861" dy="26.5">CORBIN OF</tspan><tspan x="1858" dy="26.5">PARIS</tspan><tspan x="1863" dy="26.5">FRANCE</tspan></text>
<text x="2012" y="2761">AGNES<tspan x="2012" dy="26.5">REBECCA</tspan><tspan x="2012" dy="26.5">HAMILTON</tspan></text>
<text x="2133" y="2761">ANNE<tspan x="2133" dy="26.5">PAGE, M</tspan><tspan x="2133" dy="26.5">BENJAMIN</tspan><tspan x="2129" dy="26.5">FRANKLIN</tspan><tspan x="2129" dy="26.5">RANDOLPH</tspan></text>
<text x="2264" y="2761">WILLIAM<tspan x="2264" dy="26.5">LYGON</tspan><tspan x="2264" dy="26.5">CORBIN</tspan><tspan x="2264" dy="26.5">UNMARRIED</tspan></text>
<text x="2441" y="2761">WASHINGTON<tspan x="2441" dy="26.5">SHARON</tspan><tspan x="2441" dy="26.5">CORBIN</tspan></text>
<text x="2641" y="2761">JANE<tspan x="2630" dy="26.5">VIRGINIA</tspan><tspan x="2630" dy="26.5">UNMARRIED</tspan></text>
<text x="2800" y="2761">THOMAS<tspan x="2795" dy="26.5">GROSVENOR</tspan><tspan x="2795" dy="26.5">CORBIN</tspan><tspan x="2795" dy="26.5">UNMARRIED</tspan></text>
</g>
<g id="n-sims">
<text x="1436" y="2895">FRANCIS<tspan x="1436" dy="26.5">(CORBIN)</tspan><tspan x="1436" dy="26.5">SIMS</tspan></text>
<text x="1588" y="2895">.......<tspan x="1588" dy="26.5">TUTTNALL</tspan></text>
<text x="1442" y="3000">JOSEPH<tspan x="1442" dy="26.5">SIMS</tspan></text>
<text x="1602" y="3000">ANNA<tspan x="1602" dy="26.5">.....</tspan></text>
<text x="1518" y="3068">NO ISSUE</text>
</g>
<g id="n-row73">
<text x="1434" y="3137">SALLY MILLS,<tspan x="1434" dy="26.5">M. CHAS</tspan><tspan x="1434" dy="26.5">BRITTON</tspan><tspan x="1434" dy="26.5">VIDDEN</tspan></text>
<text x="1660" y="3137">ANNA<tspan x="1650" dy="26.5">MUNFORD</tspan><tspan x="1650" dy="26.5">M. W<tspan class="s">M</tspan></tspan><tspan x="1650" dy="26.5">HARRISON</tspan><tspan x="1650" dy="26.5">BRANDER</tspan></text>
<text x="1805" y="3137">CHARLES<tspan x="1810" dy="26.5">MILLS</tspan><tspan x="1805" dy="26.5">CORBIN,</tspan><tspan x="1800" dy="26.5">UNMARRIED</tspan></text>
<text x="1563" y="3270">NICHOLAS<tspan x="1563" dy="26.5">MILLS</tspan><tspan x="1563" dy="26.5">CORBIN</tspan><tspan x="1558" dy="26.5">UNMARRIED</tspan></text>
</g>
<g id="n-john-sew">
<text x="2292" y="2881">JOHN SEW<tspan x="2292" dy="26.5">BRIDGE CORBIN,</tspan><tspan x="2292" dy="26.5">OF THE GLIMPSE</tspan><tspan x="2292" dy="26.5">HANOVER CO VA</tspan></text>
<text x="2558" y="2881">MARY<tspan x="2558" dy="26.5">BRASWELL</tspan></text>
</g>
<g id="n-row80">
<text x="2157" y="3027">JOHN<tspan x="2140" dy="26.5">GROSVENOR</tspan><tspan x="2143" dy="26.5">CORBIN.</tspan><tspan x="2143" dy="26.5">UNMARRIED</tspan></text>
<text x="2315" y="3027">VIRGINIA<tspan x="2312" dy="26.5">M 1<tspan class="s">ST</tspan> HENRY</tspan><tspan x="2312" dy="26.5">STONE, M 2<tspan class="s">D</tspan></tspan><tspan x="2312" dy="26.5">RICHARD G</tspan><tspan x="2312" dy="26.5">CHAPMAN</tspan></text>
<text x="2464" y="3027">FRANCIS<tspan x="2458" dy="26.5">UNMARRIED</tspan></text>
<text x="2642" y="3027">MARY<tspan x="2634" dy="26.5">......</tspan><tspan x="2634" dy="26.5">M. ......</tspan><tspan x="2634" dy="26.5">......NALLY</tspan></text>
<text x="2835" y="3027">ANNA<tspan x="2812" dy="26.5">RANDOLPH,</tspan><tspan x="2822" dy="26.5">DIED IN</tspan><tspan x="2822" dy="26.5">INFANCY</tspan></text>
<text x="2558" y="3162">FRANCES<tspan x="2550" dy="26.5">......WELL</tspan><tspan x="2550" dy="26.5">M. W<tspan class="s">M</tspan> ......</tspan><tspan x="2550" dy="26.5">SMITH</tspan></text>
<text x="2171" y="3189">WILLIAM<tspan x="2171" dy="26.5">LYGON</tspan><tspan x="2171" dy="26.5">CORBIN,</tspan></text>
<text x="2320" y="3189">1. ELLA LEONARD,<tspan x="2320" dy="26.5">2 .........</tspan><tspan x="2320" dy="26.5">3. CLAUDE</tspan><tspan x="2346" dy="26.5">MONTGOMERY</tspan></text>
<text x="2243" y="3299">NO ISSUE</text>
</g>
<g id="n-row77">
<text x="1970" y="3353">ISABELLA<tspan x="1970" dy="21.5">HAMILTON,</tspan><tspan x="1970" dy="21.5">M. MARQUIS</tspan><tspan x="1970" dy="21.5">JEAN DE</tspan><tspan x="1970" dy="21.5">MONTMORT</tspan></text>
<text x="2126" y="3353">ELIZABETH<tspan x="2126" dy="21.5">TAYLOE, M</tspan><tspan x="2126" dy="21.5">VICOMTE</tspan><tspan x="2126" dy="21.5">HENRY DE</tspan><tspan x="2126" dy="21.5">DAMPIERRE</tspan></text>
<text x="2312" y="3353">RICHARD<tspan x="2312" dy="21.5">WASHINGTON</tspan><tspan x="2312" dy="21.5">CORBIN</tspan></text>
<text x="2530" y="3353">BESSIE<tspan x="2530" dy="21.5">RHODES</tspan></text>
<text x="2128" y="3488">FRANCIS<tspan x="2126" dy="22.7">PORTEOUS</tspan><tspan x="2126" dy="22.7">CORBIN, DIED</tspan><tspan x="2126" dy="22.7">IN INFANCY</tspan></text>
<text x="2300" y="3488">RICHARD<tspan x="2300" dy="22.7">BEVERLEY</tspan><tspan x="2300" dy="22.7">CORBIN,</tspan></text>
<text x="2469" y="3488">LILY<tspan x="2469" dy="22.7">ELLIOT</tspan></text>
<text x="2594" y="3500">JAMES ELLIOT<tspan x="2594" dy="22.7">CORBIN</tspan><tspan x="2594" dy="22.7">UNMARRIED</tspan></text>
<text x="2219" y="3617">ELIZABETH<tspan x="2219" dy="22.7">ELLIOT</tspan></text>
<text x="2378" y="3617">RICHARD<tspan x="2378" dy="22.7">BEVERLEY</tspan><tspan x="2378" dy="22.7">CORBIN.</tspan></text>
<text x="2558" y="3617">ROBERT<tspan x="2558" dy="22.7">ELLIOT</tspan><tspan x="2558" dy="22.7">CORBIN.</tspan></text>
</g>
<g id="n-row34">
<text x="47" y="2868">RICHARD<tspan x="47" dy="26.5">CORBIN, OF</tspan><tspan x="47" dy="26.5">LANEVILLE</tspan></text>
<text x="203" y="2868">REBECCA,<tspan x="203" dy="26.5">D OF JAS</tspan><tspan x="203" dy="26.5">PARKE</tspan><tspan x="203" dy="26.5">FARLEY</tspan></text>
<text x="326" y="2868">JOHN<tspan x="326" dy="26.5">TAYLOE</tspan><tspan x="326" dy="26.5">CORBIN.</tspan><tspan x="320" dy="26.5">OF GALES</tspan></text>
<text x="464" y="2868">JULIET, D<tspan x="468" dy="26.5">OF COL</tspan><tspan x="468" dy="26.5">HUDSON</tspan><tspan x="472" dy="26.5">MUSE</tspan></text>
<text x="592" y="2868">GAWIN<tspan x="592" dy="26.5">LANE</tspan><tspan x="589" dy="26.5">CORBIN, OF</tspan><tspan x="589" dy="26.5">KINGS CREEK</tspan></text>
<text x="751" y="2868">MARIA<tspan x="740" dy="26.5">(BEVERLEY)</tspan><tspan x="740" dy="26.5">RANDOLPH,</tspan><tspan x="740" dy="26.5">D OF ROBT</tspan><tspan x="740" dy="26.5">BEVERLEY</tspan></text>
<text x="886" y="2868">HENRY<tspan x="881" dy="26.5">ELTONHEAD</tspan><tspan x="881" dy="26.5">CORBIN, OF</tspan><tspan x="881" dy="26.5">GALES,</tspan><tspan x="881" dy="26.5">MIDDLESEX</tspan><tspan x="886" dy="26.5">CO. VA.</tspan></text>
<text x="1040" y="2868">REBECCA<tspan x="1040" dy="26.5">ANN, D OF</tspan><tspan x="1040" dy="26.5">BENJ. SAY</tspan></text>
<text x="1198" y="2868">MARTHA</text>
<text x="1305" y="2868">HENRIETTA,</text>
<text x="359" y="2976">JULIET TAYLOE<tspan x="354" dy="26.5">M. WALTER HEALY</tspan></text>
<text x="1091" y="2951">ELIZABETH<tspan x="1091" dy="26.5">TAYLOE  M, 1<tspan class="s">ST</tspan></tspan><tspan x="1091" dy="26.5">RICHARD HENRY</tspan><tspan x="1091" dy="26.5">CORBIN, M. 2<tspan class="s">D</tspan> (32)</tspan><tspan x="1091" dy="26.5">ELLIOTT MUSE</tspan></text>
<text x="1277" y="2962">ANN<tspan x="1273" dy="26.5">FRANCES</tspan><tspan x="1273" dy="26.5">MARIA M.</tspan><tspan x="1277" dy="26.5">TAYLOE</tspan><tspan x="1277" dy="26.5">BRAXTON</tspan></text>
</g>
<g id="n-row56">
<text x="93" y="3054">JANE<tspan x="80" dy="26.5">KATHARINE</tspan><tspan x="80" dy="26.5">WELLFORD.</tspan></text>
<text x="238" y="3054">JAMES<tspan x="238" dy="26.5">PARKE</tspan><tspan x="238" dy="26.5">CORBIN,</tspan><tspan x="238" dy="26.5">OF LANE-</tspan><tspan x="238" dy="26.5">VILLE ETC.</tspan></text>
<text x="364" y="3054">ELIZABETH<tspan x="364" dy="26.5">LEWIS</tspan><tspan x="364" dy="26.5">HOOMES</tspan></text>
<text x="513" y="3054">ELIZABETH</text>
<text x="3" y="3153">JOHN TAYLOE<tspan x="14" dy="26.5">CORBIN,</tspan><tspan x="10" dy="26.5">UNMARRIED</tspan></text>
<text x="424" y="3136">REBECCA PARKE<tspan x="420" dy="26.5">FARLEY, M 1<tspan class="s">ST</tspan></tspan><tspan x="410" dy="26.5">JNO FAUNTLEROY,</tspan><tspan x="418" dy="26.5">M 2<tspan class="s">ND</tspan> W<tspan class="s">M</tspan> H</tspan><tspan x="420" dy="26.5">WELLFORD</tspan></text>
<text x="592" y="3136">KATHARINE<tspan x="592" dy="26.5">CARTER, M</tspan><tspan x="592" dy="26.5">1<tspan class="s">ST</tspan> W<tspan class="s">M</tspan> L E W</tspan><tspan x="590" dy="26.5">FAUNTLEROY</tspan><tspan x="590" dy="26.5">M 2<tspan class="s">D</tspan> SAMUEL</tspan><tspan x="588" dy="26.5">POWELL BYRD</tspan></text>
</g>
<g id="n-row67">
<text x="746" y="3137">MORGIANNA<tspan x="746" dy="26.5">M. DAVID</tspan><tspan x="744" dy="26.5">JOHNSTON</tspan><tspan x="746" dy="26.5">KENNEDY</tspan></text>
<text x="878" y="3137">MARY SAY,<tspan x="872" dy="26.5">M. RICHARD</tspan><tspan x="872" dy="26.5">MARCH MOE</tspan></text>
<text x="1016" y="3137">ANNA<tspan x="1016" dy="26.5">MARIA,</tspan><tspan x="1010" dy="26.5">M FRED'K</tspan><tspan x="996" dy="26.5">G. WOLBERT</tspan></text>
<text x="1142" y="3137">JOHN,<tspan x="1134" dy="26.5">DIED IN</tspan><tspan x="1130" dy="26.5">INFANCY</tspan></text>
<text x="1245" y="3137">HENRY,<tspan x="1245" dy="26.5">DIED IN</tspan><tspan x="1242" dy="26.5">INFANCY</tspan></text>
</g>
<g id="n-row62">
<text x="421" y="3320">GAWIN LANE<tspan x="411" dy="22.7">(RANDOLPH)</tspan><tspan x="418" dy="22.7">CORBIN,</tspan><tspan x="416" dy="22.7">(ADOPTED)</tspan></text>
<text x="589" y="3320">CATHERINE<tspan x="589" dy="22.7">MOORE</tspan><tspan x="589" dy="22.7">FAUNTLEROY</tspan></text>
<text x="794" y="3320">RICHARD<tspan x="792" dy="22.7">RANDOLPH</tspan><tspan x="792" dy="22.7">CORBIN,</tspan></text>
<text x="965" y="3320">MARY<tspan x="965" dy="22.7">MALLORY,</tspan></text>
<text x="1016" y="3380">LUCY BEVERLEY,<tspan x="1016" dy="22.7">M CAPT JOHN</tspan><tspan x="1025" dy="22.7">GOODALL</tspan></text>
<text x="1128" y="3320">JOHN TAYLOE CORBIN,<tspan x="1149" dy="22.7">DIED IN INFANCY</tspan></text>
<text x="1350" y="3320">ANNA<tspan x="1350" dy="22.7">BYRD, M</tspan><tspan x="1350" dy="22.7">DR. W<tspan class="s">M</tspan> H</tspan><tspan x="1350" dy="22.7">SHIELD</tspan></text>
</g>
<g id="n-row97">
<text x="373" y="3480">GAWIN<tspan x="375" dy="22.7">LANE</tspan><tspan x="375" dy="22.7">CORBIN,</tspan><tspan x="375" dy="22.7">UNMARRIED</tspan></text>
<text x="567" y="3480">EDMONIA  FAUNTLEROY,<tspan x="567" dy="22.7">M. DR. ROBERT</tspan><tspan x="567" dy="22.7">OTWAY CARTER.</tspan></text>
<text x="946" y="3468">CHARLES<tspan x="946" dy="22.7">CORBIN,</tspan><tspan x="946" dy="22.7">DIED IN</tspan><tspan x="952" dy="22.7">TEXAS</tspan></text>
<text x="1124" y="3468">.......</text>
<text x="1240" y="3468">.........<tspan x="1240" dy="22.7">CARRADINE,</tspan></text>
<text x="1436" y="3468">FILLMORE<tspan x="1436" dy="22.7">MALLORY</tspan><tspan x="1436" dy="22.7">CORBIN.</tspan></text>
<text x="1675" y="3468">FRANCES<tspan x="1675" dy="22.7">M.......</tspan><tspan x="1675" dy="22.7">PERKINS</tspan></text>
<text x="1357" y="3551">ALICE, M<tspan x="1318" dy="22.7">W<tspan class="s">M</tspan> P. HENDERSON,</tspan></text>
<text x="1555" y="3551">A SON, DIED<tspan x="1550" dy="22.7">IN INFANCY</tspan></text>
</g>
<g id="n-row87">
<text x="42" y="3651">RICHARD<tspan x="42" dy="22.7">CORBIN, OF</tspan><tspan x="42" dy="22.7">MOSS NECK</tspan></text>
<text x="238" y="3651">ROBERTA<tspan x="240" dy="22.7">CARY</tspan></text>
<text x="103" y="3734">JANE WELLFORD</text>
<text x="438" y="3651">FANNY NELSON, M.<tspan x="438" dy="22.7">W<tspan class="s">M</tspan> H DICKINSON</tspan></text>
<text x="679" y="3651">KATHARINE CARTER,<tspan x="679" dy="22.7">M. 1<tspan class="s">ST</tspan> ALEX S. PENDLETON,</tspan><tspan x="679" dy="22.7">M 2<tspan class="s">D</tspan> JOHN M. BROOKE.</tspan></text>
<text x="1184" y="3651">CHANNING<tspan x="1165" dy="22.7">MOORE CORBIN,</tspan><tspan x="1190" dy="22.7">UNMARRIED</tspan></text>
<text x="1357" y="3651">ELIZABETH<tspan x="1357" dy="22.7">FARLEY, M</tspan><tspan x="1357" dy="22.7">JOSEPH S.</tspan><tspan x="1362" dy="22.7">BROWN</tspan></text>
<text x="1510" y="3651">TAZEWELL<tspan x="1510" dy="22.7">TAYLOE</tspan><tspan x="1510" dy="22.7">CORBIN</tspan><tspan x="1510" dy="22.7">UNMARRIED</tspan></text>
<text x="1774" y="3651">SOPHIA HOOMES<tspan x="1774" dy="22.7">M. EUGENE BOWIE</tspan></text>
<text x="315" y="3707">SPOTTSWOOD<tspan x="320" dy="22.7">WELLFORD</tspan><tspan x="320" dy="22.7">CORBIN.</tspan></text>
<text x="536" y="3707">DIANA<tspan x="536" dy="22.7">FONTAINE</tspan><tspan x="536" dy="22.7">MAURY.</tspan></text>
<text x="853" y="3732">JAMES PARKE<tspan x="853" dy="22.7">CORBIN, OF</tspan><tspan x="853" dy="22.7">MOSS NECK,</tspan></text>
<text x="1082" y="3732">EDMONIA<tspan x="1082" dy="22.7">FITZHUGH</tspan><tspan x="1082" dy="22.7">FICKLEN</tspan></text>
<text x="993" y="3812">NO ISSUE</text>
<text x="1658" y="3732">CHAMPE<tspan x="1658" dy="22.7">CARTER</tspan><tspan x="1658" dy="22.7">CORBIN,</tspan></text>
<text x="1807" y="3732">SALLY<tspan x="1807" dy="22.7">MARTIN</tspan><tspan x="1807" dy="22.7">GATCHELL</tspan></text>
</g>
<g id="n-row107">
<text x="145" y="3867">ANN HERNDON<tspan x="145" dy="22.7">MAURY,  M</tspan><tspan x="145" dy="22.7">COL THOS. R.</tspan><tspan x="148" dy="22.7">MARSHALL</tspan></text>
<text x="324" y="3867">JOHN HERNDON<tspan x="324" dy="22.7">MAURY CORBIN,</tspan><tspan x="322" dy="22.7">DIED IN INFANCY</tspan></text>
<text x="520" y="3867">MATTHEW<tspan x="516" dy="22.7">MAURY</tspan><tspan x="512" dy="22.7">CORBIN</tspan></text>
<text x="699" y="3867">MARY<tspan x="690" dy="22.7">ANDERSON</tspan><tspan x="690" dy="22.7">REINHART</tspan></text>
<text x="306" y="4035">SPOTTSWOOD<tspan x="306" dy="22.7">WELLFORD</tspan><tspan x="306" dy="22.7">CORBIN</tspan></text>
<text x="539" y="4035">DOROTHY<tspan x="541" dy="22.7">PARKER</tspan></text>
<text x="688" y="4035">JAMES<tspan x="688" dy="22.7">M<tspan class="s">C</tspan>HENRY</tspan><tspan x="688" dy="22.7">CORBIN.</tspan></text>
</g>
<g id="n-row110">
<text x="886" y="3878">JOHN<tspan x="886" dy="22.7">GLENN</tspan><tspan x="886" dy="22.7">GATCHELL</tspan><tspan x="886" dy="22.7">CORBIN</tspan></text>
<text x="1040" y="3878">MRS. ELIZABETH<tspan x="1040" dy="22.7">FARLEY</tspan><tspan x="1030" dy="22.7">(BROWN)</tspan><tspan x="1040" dy="22.7">RANSON</tspan></text>
<text x="1313" y="3878">JAMES<tspan x="1313" dy="22.7">PARKE</tspan><tspan x="1313" dy="22.7">CORBIN.</tspan></text>
<text x="1465" y="3878">MRS. DOROTHY<tspan x="1465" dy="22.7">COLEMAN</tspan><tspan x="1465" dy="22.7">DICKERSON</tspan><tspan x="1465" dy="22.7">ROWE.</tspan></text>
<text x="1809" y="3878">CHAMPE CARTER, M.<tspan x="1809" dy="22.7">CARTER S. GORDON.</tspan></text>
<text x="2163" y="3878">TAZEWELL<tspan x="2163" dy="22.7">TAYLOE</tspan><tspan x="2163" dy="22.7">CORBIN,</tspan></text>
<text x="2340" y="3878">BEATRICE<tspan x="2336" dy="22.7">THORNTON</tspan></text>
<text x="1142" y="3981">RICHARD MOORE<tspan x="1142" dy="22.7">CORBIN, DIED</tspan><tspan x="1146" dy="22.7">IN INFANCY</tspan></text>
<text x="1588" y="3981">ELLEN SPOTTSWOOD,<tspan x="1588" dy="22.7">M 1<tspan class="s">ST</tspan> J.R NICHOLS</tspan><tspan x="1588" dy="22.7">M. 2<tspan class="s">ND</tspan> W<tspan class="s">M</tspan> M<tspan class="s">C</tspan>M.</tspan><tspan x="1590" dy="22.7">BUCKLEY.</tspan></text>
<text x="1986" y="3981">JANE MARTIN,<tspan x="1986" dy="22.7">M FREDERICK</tspan><tspan x="1986" dy="22.7">HALL</tspan></text>
<text x="2225" y="4057">JOHN TAYLOE<tspan x="2225" dy="22.7">CORBIN.</tspan></text>
</g>
</svg>
